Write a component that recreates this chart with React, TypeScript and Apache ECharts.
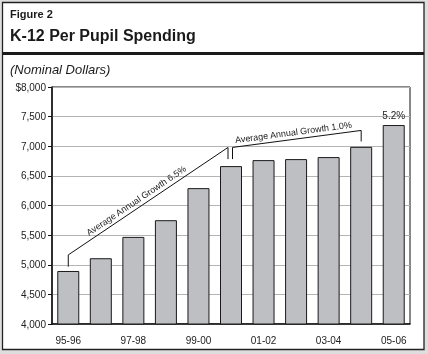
import React, { useEffect, useRef } from "react";
import * as echarts from "echarts";

const categories = ["95-96", "96-97", "97-98", "98-99", "99-00", "00-01", "01-02", "02-03", "03-04", "04-05", "05-06"];
const spending = [4895, 5110, 5470, 5752, 6293, 6665, 6766, 6783, 6817, 6990, 7358];
const lastGrowthLabel = "5.2%";
const yTicks = { min: 4000, max: 8000, interval: 500 };

// growth brackets: category index span and the values of the bracket's ends
const growthLabels = ["Average Annual Growth 6.5%", "Average Annual Growth 1.0%"];
const growthFrom = [0, 5];
const growthTo = [5, 9];
const growthFromBase = [4968, 6783];
const growthFromTop = [5166, 6980];
const growthToTop = [6980, 7267];
const growthToBase = [6783, 7081];

const FONT = "'Liberation Sans', Arial, Helvetica, sans-serif";

export default function App() {
  const ref = useRef<HTMLDivElement>(null);
  useEffect(() => {
    document.body.style.margin = "0";
    const chart = echarts.init(ref.current!, null, { renderer: "svg" });
    const endShift = [[0, -3], [1.5, 0]];
    const textT = [0.45, 0.48];
    chart.setOption({
      animation: false,
      textStyle: { fontFamily: FONT },
      graphic: [
        { type: "rect", z: -10, silent: true, shape: { x: 0, y: 0, width: 428, height: 354 }, style: { fill: "#dedede" } },
        { type: "rect", z: -9, silent: true, shape: { x: 2.5, y: 2.5, width: 421.5, height: 347 }, style: { fill: "#ffffff", stroke: "#222", lineWidth: 1.3 } },
        { type: "rect", z: -8, silent: true, shape: { x: 2.5, y: 52, width: 421.5, height: 3 }, style: { fill: "#1a1a1a" } },
        { type: "text", x: 10, y: 8, style: { text: "Figure 2", font: `bold 11px ${FONT}`, fill: "#1a1a1a", align: "left", verticalAlign: "top" } },
        { type: "text", x: 10, y: 27, style: { text: "K-12 Per Pupil Spending", font: `bold 16px ${FONT}`, fill: "#1a1a1a", align: "left", verticalAlign: "top" } },
        { type: "text", x: 10, y: 63, style: { text: "(Nominal Dollars)", font: `italic 13px ${FONT}`, fill: "#1a1a1a", align: "left", verticalAlign: "top" } },
      ],
      grid: { left: 52, top: 87, width: 358, height: 237, show: true, borderColor: "#111", borderWidth: 1, backgroundColor: "transparent" },
      xAxis: {
        type: "category",
        data: categories,
        axisLine: { lineStyle: { color: "#111", width: 1.5 } },
        axisTick: { show: false },
        axisLabel: { interval: 1, color: "#222", fontSize: 10, margin: 11, fontFamily: FONT },
      },
      yAxis: {
        type: "value",
        min: yTicks.min,
        max: yTicks.max,
        interval: yTicks.interval,
        axisLine: { show: true, lineStyle: { color: "#111", width: 1.5 } },
        axisTick: { show: true, length: 4, lineStyle: { color: "#111" } },
        splitLine: { lineStyle: { color: "#b4b4b4", width: 1 } },
        axisLabel: {
          color: "#222",
          fontSize: 10,
          margin: 6,
          fontFamily: FONT,
          formatter: (v: number) => (v === yTicks.max ? "$" : "") + v.toLocaleString("en-US"),
        },
      },
      series: [
        {
          type: "bar",
          barWidth: 22,
          data: spending.map((v, i) =>
            i === spending.length - 1
              ? { value: v, label: { show: true, position: "top", distance: 5, formatter: lastGrowthLabel, fontSize: 10, color: "#222", fontFamily: FONT } }
              : v
          ),
          itemStyle: { color: "#bebfc3", borderColor: "#1a1a1a", borderWidth: 1 },
        },
        {
          type: "custom",
          silent: true,
          z: 5,
          data: growthLabels.map((_, i) => [growthFrom[i], growthFromBase[i]]),
          renderItem: (params: any, api: any) => {
            const i = params.dataIndex;
            const [sx, sdx] = [growthFrom[i], endShift[i][0]];
            const [ex, edx] = [growthTo[i], endShift[i][1]];
            const a = api.coord([sx, growthFromBase[i]]);
            const b = api.coord([sx, growthFromTop[i]]);
            const c = api.coord([ex, growthToTop[i]]);
            const d = api.coord([ex, growthToBase[i]]);
            a[0] += sdx; b[0] += sdx; c[0] += edx; d[0] += edx;
            const dx = c[0] - b[0];
            const dy = c[1] - b[1];
            const ang = Math.atan2(-dy, dx);
            const t = textT[i];
            const mx = b[0] + dx * t;
            const my = b[1] + dy * t;
            const off = 2.5;
            const px = mx - Math.sin(ang) * off;
            const py = my - Math.cos(ang) * off;
            return {
              type: "group",
              children: [
                { type: "polyline", shape: { points: [a, b, c, d] }, style: { stroke: "#111", lineWidth: 1, fill: null } },
                {
                  type: "text",
                  x: px,
                  y: py,
                  rotation: ang,
                  style: { text: growthLabels[i], font: `9px ${FONT}`, fill: "#222", align: "center", verticalAlign: "bottom" },
                },
              ],
            };
          },
        },
      ],
    });
    return () => chart.dispose();
  }, []);
  return <div ref={ref} style={{ position: "fixed", left: 0, top: 0, width: 428, height: 354 }} />;
}
